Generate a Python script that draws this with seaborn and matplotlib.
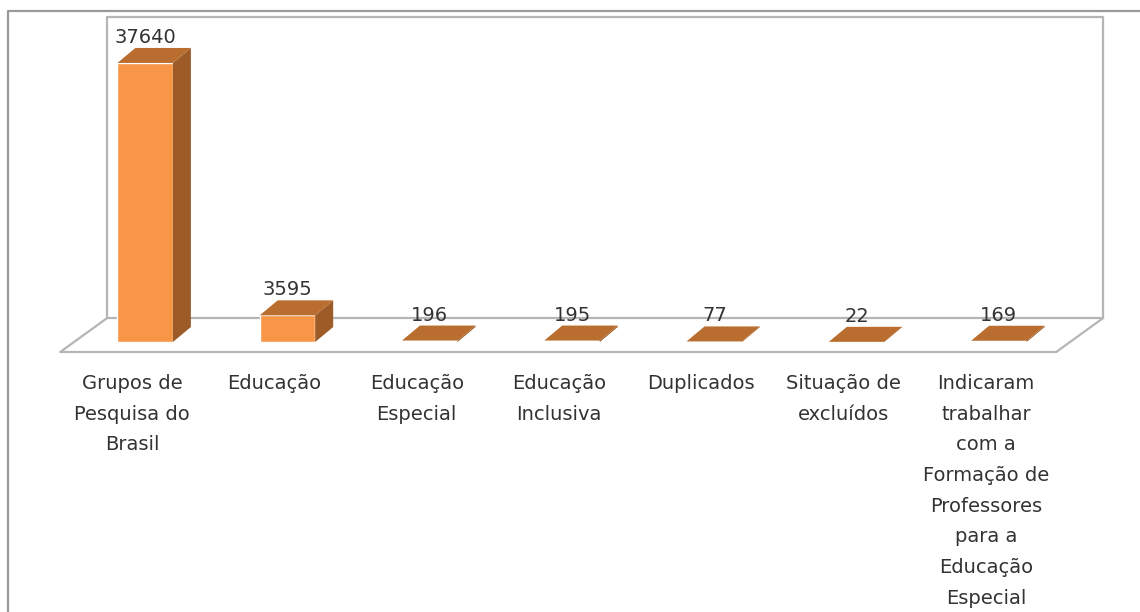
import matplotlib
matplotlib.use("Agg")
import seaborn as sns
import matplotlib.pyplot as plt
import matplotlib.transforms as mtransforms
from matplotlib.patches import Polygon
from matplotlib.lines import Line2D
import numpy as np
import pandas as pd

categorias = [
    "Grupos de\nPesquisa do\nBrasil",
    "Educação",
    "Educação\nEspecial",
    "Educação\nInclusiva",
    "Duplicados",
    "Situação de\nexcluídos",
    "Indicaram\ntrabalhar\ncom a\nFormação de\nProfessores\npara a\nEducação\nEspecial",
]
valores = [37640, 3595, 196, 195, 77, 22, 169]

sns.set_style("white")
plt.rcParams['font.family'] = ['DejaVu Sans']

cor_frente = '#F79646'
cor_lado = '#9C5B27'
cor_topo = '#B96E2F'
cor_texto = '#333333'

W, H = 1140, 612
fig = plt.figure(figsize=(W / 100, H / 100), dpi=100)
ax = fig.add_axes([74 / W, 1 - 342 / H, 996 / W, 301 / H])
ax.set_facecolor('none')

df = pd.DataFrame({'categoria': categorias, 'valor': valores})
sns.barplot(x='categoria', y='valor', data=df, color=cor_frente, saturation=1,
            width=0.39, ax=ax, zorder=3)
ax.set_xlim(-0.5, len(categorias) - 0.5)
ax.set_ylim(0, 40600)
ax.set_yticks([])
ax.set_xlabel('')
ax.set_ylabel('')
for s in ax.spines.values():
    s.set_visible(False)

ax.tick_params(axis='x', length=0, pad=23, labelsize=14, labelcolor=cor_texto)
desloc = mtransforms.ScaledTranslation(-0.13, 0, fig.dpi_scale_trans)
for lab in ax.get_xticklabels():
    lab.set_linespacing(1.78)
    lab.set_transform(lab.get_transform() + desloc)

ident = mtransforms.IdentityTransform()

# parede de fundo e piso (perspectiva)
cantos = ax.transAxes.transform([(0, 0), (1, 0), (1, 1), (0, 1)])
fundo = cantos + np.array([33.2, 24])
frente = cantos + np.array([-13.8, -10])
cor_parede = '#B5B5B5'
for xs, ys in [
    ([fundo[0][0], fundo[3][0], fundo[2][0], fundo[1][0]],
     [fundo[0][1], fundo[3][1], fundo[2][1], fundo[1][1]]),
    ([fundo[0][0], fundo[1][0]], [fundo[0][1], fundo[1][1]]),
    ([fundo[0][0], frente[0][0], frente[1][0], fundo[1][0]],
     [fundo[0][1], frente[0][1], frente[1][1], fundo[1][1]]),
]:
    ax.add_line(Line2D(xs, ys, transform=ident, color=cor_parede, lw=1.6,
                       zorder=1, clip_on=False))

# faces laterais e superiores das barras
prof = np.array([18, 15])
for p in ax.patches:
    x0, w, h = p.get_x(), p.get_width(), p.get_height()
    fl = ax.transData.transform([(x0, h), (x0 + w, h)])
    lado = ax.transData.transform([(x0 + w, 0), (x0 + w, h)])
    topo = np.array([fl[0], fl[1], fl[1] + prof, fl[0] + prof])
    face = np.array([lado[0], lado[1], lado[1] + prof, lado[0] + prof])
    ax.add_patch(Polygon(face, closed=True, transform=ident, facecolor=cor_lado,
                         edgecolor='none', zorder=4, clip_on=False))
    ax.add_patch(Polygon(topo, closed=True, transform=ident, facecolor=cor_topo,
                         edgecolor='none', zorder=4, clip_on=False))

for i, v in enumerate(valores):
    ax.annotate(str(v), (i, v), xytext=(0, 14.4), textcoords='offset points',
                ha='center', va='baseline', fontsize=14, color=cor_texto, zorder=5)

# moldura externa
fig.add_artist(Line2D([8 / W, 8 / W, 1.01], [-0.01, 1 - 11 / H, 1 - 11 / H],
                      transform=fig.transFigure, color='#9A9A9A', lw=1.6))

fig.savefig('out.png', dpi=100)
